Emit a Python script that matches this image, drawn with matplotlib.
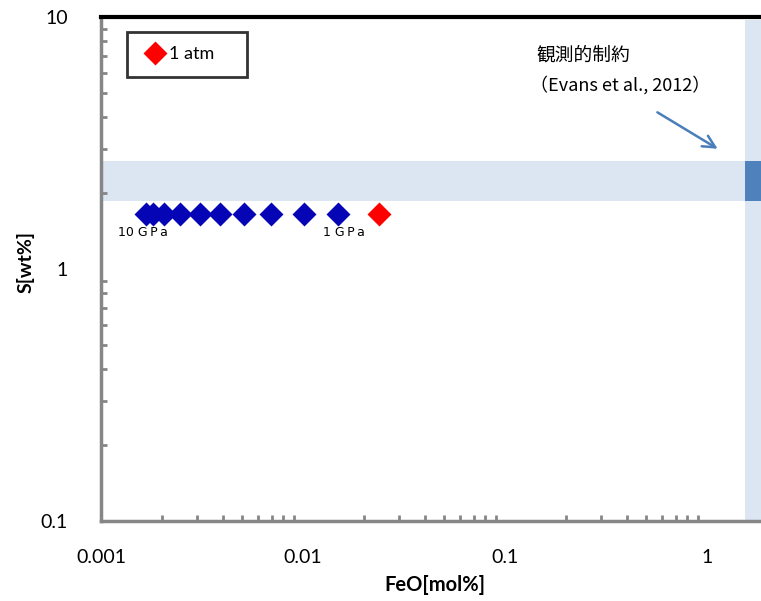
import matplotlib
matplotlib.use("Agg")
import matplotlib.pyplot as plt
from matplotlib.lines import Line2D
from matplotlib.ticker import LogLocator, FixedLocator, FixedFormatter, NullFormatter

plt.rcParams['font.family'] = ['Lato', 'Noto Sans CJK JP', 'DejaVu Sans']

# Data
feo_gpa = [0.00167, 0.00181, 0.00206, 0.00246, 0.00309, 0.00390, 0.00510, 0.00694, 0.0101, 0.0149]
s_gpa = [1.65] * len(feo_gpa)
feo_atm = [0.0238]
s_atm = [1.65]
band_s = (1.86, 2.68)          # observational constraint on S
band_feo = (1.54, 1.85)        # observational constraint on FeO
xticks = [0.001, 0.01, 0.1, 1]
xticklabels = ['0.001', '0.01', '0.1', '1']
yticks = [0.1, 1, 10]
yticklabels = ['0.1', '1', '10']

light = '#DCE6F2'
dark = '#4F81BD'

fig = plt.figure(figsize=(7.61, 6.01), dpi=100)
ax = fig.add_axes([101/761, 80/601, 660/761, 504/601])
ax.set_xscale('log')
ax.set_yscale('log')
ax.set_xlim(0.001, 1.85)
ax.set_ylim(0.1, 10)

# bands
ax.axhspan(band_s[0], band_s[1], color=light, lw=0, zorder=0)
ax.axvspan(band_feo[0], band_feo[1], ymax=0.994, color=light, lw=0, zorder=0)
ax.fill_between([band_feo[0], band_feo[1]], band_s[0], band_s[1], color=dark, lw=0, zorder=0.5)

# points
ax.plot(feo_gpa, s_gpa, 'D', color='#0505B5', ms=12.5, mec='none', zorder=3)
ax.plot(feo_atm, s_atm, 'D', color='#FF0000', ms=12.5, mec='none', zorder=3)

ax.text(0.00161, 1.40, '10 G\u2009P\u2009a', fontsize=9, ha='center', va='center', family=['DejaVu Sans'])
ax.text(0.0160, 1.40, '1 G\u2009P\u2009a', fontsize=9, ha='center', va='center', family=['DejaVu Sans'])

# annotation
ax.text(0.1438, 7.06, '観測的制約', fontsize=13.5, family=['Noto Sans CJK JP'], ha='left', va='center')
ax.text(0.133, 5.37, '（Evans et al., 2012）', fontsize=13, family=['Noto Sans CJK JP', 'Lato'],
        ha='left', va='center')
ax.annotate('', xy=(1.16, 2.96), xytext=(0.553, 4.24),
            arrowprops=dict(arrowstyle='->', color='#4A7EBB', lw=1.8, mutation_scale=22))

# spines
for sp in ['left', 'bottom']:
    ax.spines[sp].set_color('#868686')
    ax.spines[sp].set_linewidth(2.5)
ax.spines['top'].set_color('black')
ax.spines['top'].set_linewidth(3)
ax.spines['right'].set_visible(False)

ax.xaxis.set_major_locator(FixedLocator(xticks))
ax.xaxis.set_major_formatter(FixedFormatter(xticklabels))
ax.yaxis.set_major_locator(FixedLocator(yticks))
ax.yaxis.set_major_formatter(FixedFormatter(yticklabels))
ax.xaxis.set_minor_locator(LogLocator(base=10, subs=range(2, 10)))
ax.yaxis.set_minor_locator(LogLocator(base=10, subs=range(2, 10)))
ax.xaxis.set_minor_formatter(NullFormatter())
ax.yaxis.set_minor_formatter(NullFormatter())
ax.tick_params(which='both', direction='in', color='#868686', width=2, length=4, top=False, right=False)
ax.tick_params(which='major', length=0)
ax.tick_params(axis='x', which='major', labelsize=14, pad=20)
ax.tick_params(axis='y', which='major', labelsize=14, pad=24)

ax.set_xlabel('FeO[mol%]', fontsize=14.5, fontweight='bold')
ax.set_ylabel('S[wt%]', fontsize=14, fontweight='bold')
ax.xaxis.set_label_coords(0.506, -0.108)
ax.yaxis.set_label_coords(-0.100, 0.514)

h = [Line2D([], [], marker='D', color='#FF0000', ls='none', ms=12, mec='none')]
leg = ax.legend(h, ['1 atm    '], loc='upper left', bbox_to_anchor=(26/660, 1 - 15/504),
                frameon=True, fancybox=False, fontsize=13, handlelength=1.5,
                handletextpad=0.0, borderpad=0.8, borderaxespad=0)
leg.get_frame().set_edgecolor('black')
leg.get_frame().set_linewidth(2)

fig.savefig('out.png', dpi=100)
